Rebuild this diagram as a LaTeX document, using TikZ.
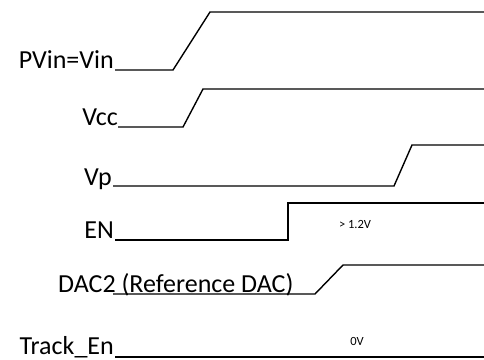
\documentclass[tikz,border=0pt]{standalone}
\usepackage{fontspec}
\setmainfont{Carlito}
\begin{document}
\begin{tikzpicture}[x=1pt,y=-1pt,
  wave/.style={line width=1.4pt, line join=miter},
  lbl/.style={anchor=base east, inner sep=0pt, font=\fontsize{26}{30}\selectfont},
  small/.style={inner sep=0pt, font=\fontsize{12.5}{15}\selectfont}]
\useasboundingbox (0,0) rectangle (484,359);
% labels
\node[lbl] (pvin) at (114,68) {PVin=Vin};
\node[lbl] (vcc) at (118,125) {Vcc};
\node[lbl] (vp) at (112,185) {Vp};
\node[lbl] (en) at (114,238.5) {EN};
\node[lbl, anchor=base west] (dac) at (58,292) {DAC2 (Reference DAC)};
\node[lbl, text depth=0pt] (trk) at (114,354) {Track\_En};
\node[small] (v12) at (355,224) {> 1.2V};
\node[small] (v0) at (357,341) {0V};
% waveform points
\coordinate (p0) at (115,70); \coordinate (p1) at (173,70); \coordinate (p2) at (210,12); \coordinate (p3) at (484,12);
\coordinate (c0) at (118,127); \coordinate (c1) at (183,127); \coordinate (c2) at (203,89); \coordinate (c3) at (484,89);
\coordinate (v0a) at (113,186); \coordinate (v1) at (394,186); \coordinate (v2) at (412,145); \coordinate (v3) at (484,145);
\coordinate (e0) at (115,240); \coordinate (e1) at (288,240); \coordinate (e2) at (288,203); \coordinate (e3) at (484,203);
\coordinate (d0) at (113,294); \coordinate (d1) at (315,294); \coordinate (d2) at (343,265); \coordinate (d3) at (484,265);
\coordinate (t0) at (115,357); \coordinate (t1) at (484,357);
\draw[wave] (p0) -- (p1) -- (p2) -- (p3);
\draw[wave] (c0) -- (c1) -- (c2) -- (c3);
\draw[wave] (v0a) -- (v1) -- (v2) -- (v3);
\draw[wave] (e0) -- (e1) -- (e2) -- (e3);
\draw[wave] (d0) -- (d1) -- (d2) -- (d3);
\draw[wave] (t0) -- (t1);
\end{tikzpicture}
\end{document}
